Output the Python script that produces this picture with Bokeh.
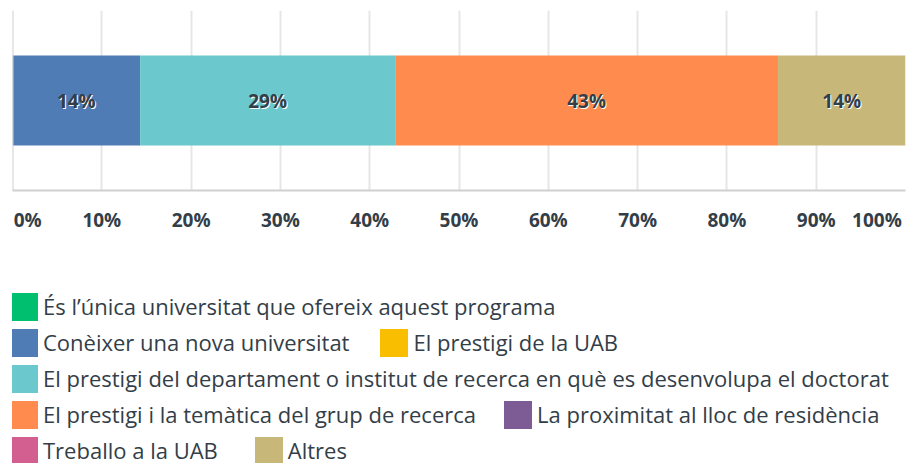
import numpy as np
from bokeh.plotting import figure
from bokeh.layouts import column
from bokeh.models import ColumnDataSource, Range1d, FixedTicker, Legend, LegendItem, Span
from bokeh.core.properties import value
from bokeh.embed import file_html
from bokeh.resources import INLINE

categories = [
    "És l’única universitat que ofereix aquest programa",
    "Conèixer una nova universitat",
    "El prestigi de la UAB",
    "El prestigi del departament o institut de recerca en què es desenvolupa el doctorat",
    "El prestigi i la temàtica del grup de recerca",
    "La proximitat al lloc de residència",
    "Treballo a la UAB",
    "Altres",
]
percent = [0, 14.29, 0, 28.57, 42.86, 0, 0, 14.29]
colors = ["#00bf6f", "#507cb6", "#f9be00", "#6bc8cd", "#ff8b4f", "#7d5b94", "#d25f90", "#c7b879"]
grid_ticks = [10, 20, 30, 40, 50, 60, 70, 80, 90]
tick_label_pos = [1.7, 10, 20, 30, 40, 50, 60, 70, 80, 90, 96.8]
tick_labels = ["0%", "10%", "20%", "30%", "40%", "50%", "60%", "70%", "80%", "90%", "100%"]
legend_rows = [[0], [1, 2], [3], [4, 5], [6, 7]]
row_spacing = [0, 27, 0, 24, 33]

TXT = "#333e48"
FONT = "Open Sans"

names = [f"s{i}" for i in range(len(percent))]
data = {"y": [1]}
for n, v in zip(names, percent):
    data[n] = [v]
src = ColumnDataSource(data)

W = 906
TOP_H = 250
BOT_H = 463 - TOP_H

p = figure(width=W, height=TOP_H, x_range=Range1d(0, 100), y_range=Range1d(0, 2),
           output_backend="svg", toolbar_location=None, y_axis_location=None,
           min_border_left=12, min_border_right=1, min_border_top=10, min_border_bottom=60)
p.outline_line_color = None

rs = p.hbar_stack(names, y="y", height=1, color=colors, source=src, line_color=None)

p.ygrid.visible = False
p.xgrid.ticker = FixedTicker(ticks=grid_ticks)
p.xgrid.grid_line_color = "#e6e6e6"
p.xgrid.grid_line_width = 2
p.xgrid.level = "underlay"

p.add_layout(Span(location=0, dimension="height", line_color="#d0d0d0", line_width=2))

ax = p.xaxis[0]
ax.ticker = FixedTicker(ticks=tick_label_pos)
ax.major_label_overrides = {float(k): lab for k, lab in zip(tick_label_pos, tick_labels)}
ax.axis_line_color = "#d0d0d0"
ax.axis_line_width = 2
ax.major_tick_line_color = None
ax.minor_tick_line_color = None
ax.major_tick_out = 0
ax.major_tick_in = 0
ax.major_label_standoff = 16
ax.major_label_text_font = FONT
ax.major_label_text_font_size = "19px"
ax.major_label_text_font_style = "bold"
ax.major_label_text_color = TXT

cum = np.cumsum(percent)
starts = cum - np.array(percent)
lx, ly, lt = [], [], []
for s, v in zip(starts, percent):
    if v > 0:
        lx.append(s + v / 2)
        ly.append(1)
        lt.append(f"{round(v)}%")
lab_src = ColumnDataSource(dict(x=lx, y=ly, text=lt))
p.text("x", "y", "text", source=lab_src, text_color="white", x_offset=1, y_offset=1,
       text_align="center", text_baseline="middle", text_font=value(FONT),
       text_font_size="19px", text_font_style="bold")
p.text("x", "y", "text", source=lab_src, text_color=TXT,
       text_align="center", text_baseline="middle", text_font=value(FONT),
       text_font_size="19px", text_font_style="bold")

# legend figure
q = figure(width=W, height=BOT_H, x_range=Range1d(0, 100), y_range=Range1d(10, 11),
           output_backend="svg", toolbar_location=None, x_axis_location=None,
           y_axis_location=None, min_border=0)
q.outline_line_color = None
q.grid.visible = False
qr = q.hbar_stack(names, y="y", height=1, color=colors, source=src, line_color=None)

GH = 35
ROW_TOP0 = 294 - TOP_H - 5.5   # legend box top of first row inside legend figure
PITCH = 36
for ri, (row, sp) in enumerate(zip(legend_rows, row_spacing)):
    items = [LegendItem(label=categories[i], renderers=[qr[i]]) for i in row]
    top = ROW_TOP0 + ri * PITCH
    leg = Legend(items=items, orientation="horizontal", location=(-6, BOT_H - top - GH),
                 spacing=sp, glyph_width=GH, glyph_height=GH, label_standoff=2,
                 label_height=GH, padding=0, margin=0, border_line_color=None,
                 background_fill_alpha=0,
                 label_text_font=FONT, label_text_font_size="22px", label_text_color=TXT)
    q.add_layout(leg, "center")

layout = column(p, q, spacing=0)
open("out.html", "w").write(file_html(layout, INLINE))
